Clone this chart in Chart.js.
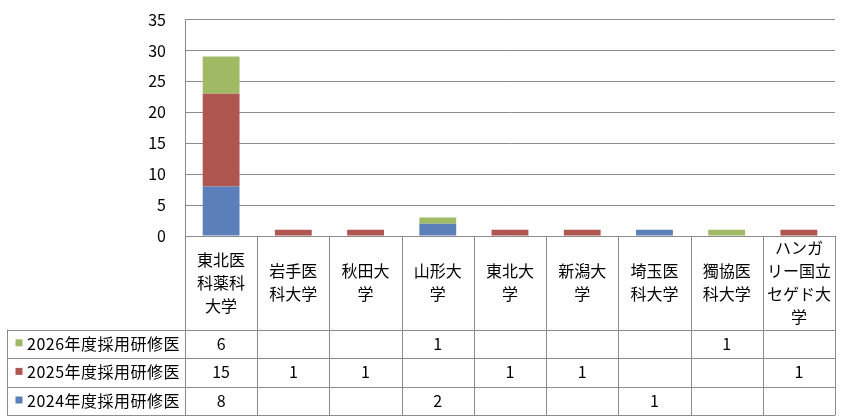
<!DOCTYPE html>
<html>
<head>
<meta charset="utf-8">
<script src="https://cdn.jsdelivr.net/npm/chart.js@4"></script>
<style>
  body { margin: 0; background: #fff; }
  #wrap { width: 850px; height: 419px; }
</style>
</head>
<body>
<div id="wrap"><canvas id="myChart"></canvas></div>
<script>
// datos de la grafica
const categories = ['東北医\n科薬科\n大学', '岩手医\n科大学', '秋田大\n学', '山形大\n学', '東北大\n学', '新潟大\n学', '埼玉医\n科大学', '獨協医\n科大学', 'ハンガ\nリー国立\nセゲド大\n学'];
const s2024 = [8, null, null, 2, null, null, 1, null, null];
const s2025 = [15, 1, 1, null, 1, 1, null, null, 1];
const s2026 = [6, null, null, 1, null, null, null, 1, null];
const seriesNames = ['2024年度採用研修医', '2025年度採用研修医', '2026年度採用研修医'];
const yTicks = [0, 5, 10, 15, 20, 25, 30, 35];

const colores = ['#5a7fb9', '#b05650', '#a0b964'];
const FONT = "'Noto Sans CJK JP', 'Noto Sans', sans-serif";
const LINE = '#8c8c8c';

// tabla de datos debajo del eje (estilo Excel)
const tablaPlugin = {
  id: 'tabla',
  afterDraw(chart) {
    const ctx = chart.ctx;
    const xs = chart.scales.x;
    const area = chart.chartArea;
    const n = categories.length;
    const colW = (area.right - area.left) / n;
    const headTop = area.bottom;
    const headBot = 329.5;
    const rowH = 28.6;
    const rows = [s2026, s2025, s2024];
    const rowNames = [seriesNames[2], seriesNames[1], seriesNames[0]];
    const rowCols = [colores[2], colores[1], colores[0]];
    const tableBot = headBot + rowH * 3;
    const legLeft = 7;

    ctx.save();
    ctx.strokeStyle = LINE;
    ctx.lineWidth = 1;
    ctx.beginPath();
    // lineas verticales
    for (let i = 0; i <= n; i++) {
      const x = Math.round(area.left + colW * i) + 0.5;
      ctx.moveTo(x, headTop);
      ctx.lineTo(x, tableBot);
    }
    ctx.moveTo(legLeft + 0.5, headBot);
    ctx.lineTo(legLeft + 0.5, tableBot);
    // lineas horizontales
    for (let r = 0; r <= 3; r++) {
      const y = Math.round(headBot + rowH * r) + 0.5;
      ctx.moveTo(legLeft, y);
      ctx.lineTo(area.right, y);
    }
    ctx.stroke();

    ctx.fillStyle = '#000';
    ctx.textAlign = 'center';
    ctx.textBaseline = 'middle';
    ctx.font = '16px ' + FONT;
    // etiquetas de categorias
    const lh = 23;
    const midH = (headTop + headBot) / 2;
    categories.forEach((c, i) => {
      const x = xs.getPixelForValue(i);
      const lines = c.split('\n');
      const y0 = midH - (lines.length - 1) * lh / 2;
      lines.forEach((t, k) => ctx.fillText(t, x, y0 + k * lh));
    });
    // valores
    rows.forEach((data, r) => {
      const y = headBot + rowH * r + rowH / 2;
      data.forEach((v, i) => {
        if (v !== null) ctx.fillText(String(v), xs.getPixelForValue(i), y);
      });
    });
    // leyenda
    ctx.textAlign = 'left';
    ctx.letterSpacing = '0.5px';
    rows.forEach((data, r) => {
      const y = headBot + rowH * r + rowH / 2;
      ctx.fillStyle = rowCols[r];
      ctx.fillRect(15.5, y - 4.5, 7, 7);
      ctx.fillStyle = '#000';
      ctx.fillText(rowNames[r], 27, y);
    });
    ctx.restore();
  }
};

const ctx = document.getElementById('myChart');

new Chart(ctx, {
  type: 'bar',
  data: {
    labels: categories,
    datasets: [
      { label: seriesNames[0], data: s2024, backgroundColor: colores[0] },
      { label: seriesNames[1], data: s2025, backgroundColor: colores[1] },
      { label: seriesNames[2], data: s2026, backgroundColor: colores[2] }
    ]
  },
  options: {
    responsive: true,
    maintainAspectRatio: false,
    animation: false,
    layout: { padding: { top: 19.5, right: 15, bottom: 183, left: 0 } },
    plugins: { legend: { display: false }, tooltip: { enabled: false } },
    datasets: { bar: { categoryPercentage: 0.51, barPercentage: 1 } },
    scales: {
      x: { stacked: true, display: false },
      y: {
        stacked: true,
        min: 0,
        max: 35,
        afterBuildTicks: (s) => { s.ticks = yTicks.map(v => ({ value: v })); },
        afterFit: (s) => { s.width = 185; },
        border: { display: true, color: LINE, width: 1 },
        grid: { color: LINE, lineWidth: 1, drawTicks: true, tickLength: 19, tickColor: 'rgba(0,0,0,0)' },
        ticks: { padding: 0, color: '#000', font: { family: FONT, size: 16 } }
      }
    }
  },
  plugins: [tablaPlugin]
});
</script>
</body>
</html>
